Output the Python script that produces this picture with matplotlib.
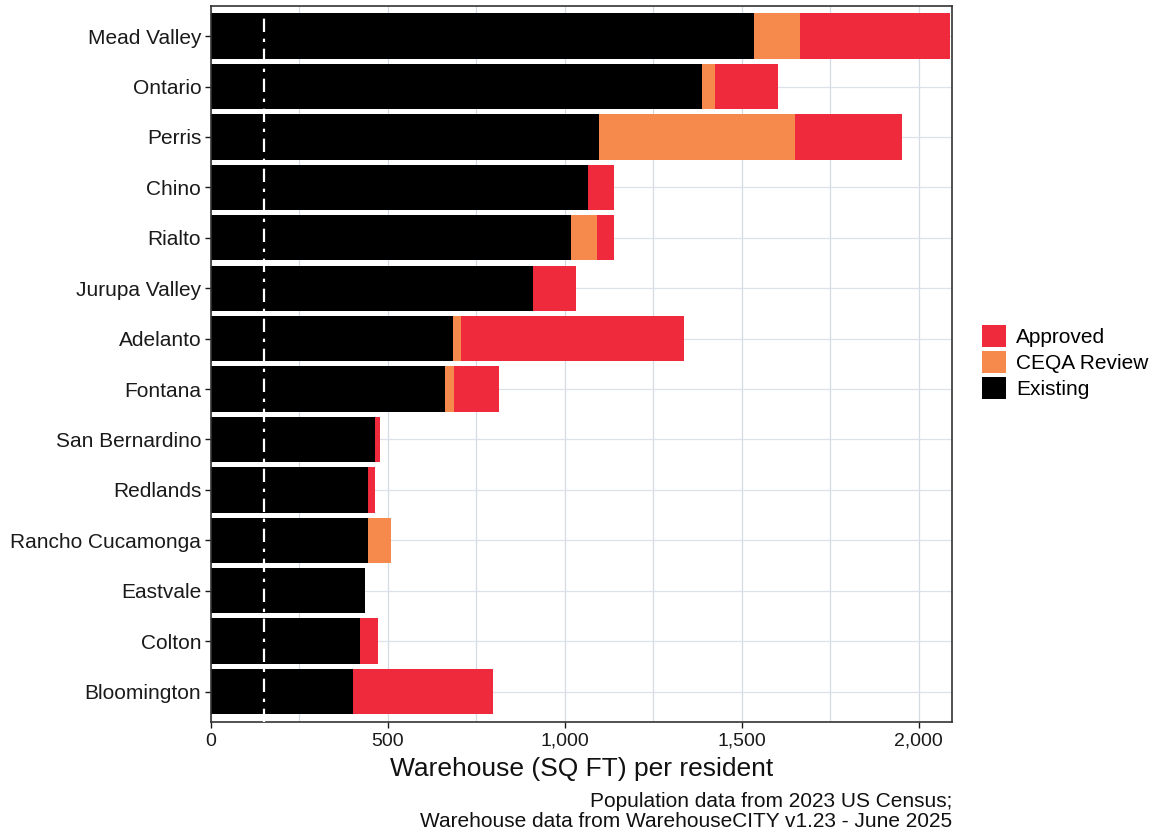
import matplotlib
matplotlib.use("Agg")
import matplotlib.pyplot as plt
from matplotlib.patches import Patch
from matplotlib.ticker import MultipleLocator, FuncFormatter

plt.rcParams['font.family'] = ['Liberation Sans', 'DejaVu Sans']

cities = ["Mead Valley", "Ontario", "Perris", "Chino", "Rialto", "Jurupa Valley",
          "Adelanto", "Fontana", "San Bernardino", "Redlands", "Rancho Cucamonga",
          "Eastvale", "Colton", "Bloomington"]
existing = [1534, 1387, 1096, 1065, 1017, 910, 684, 661, 463, 444, 444, 435, 421, 401]
ceqa     = [132, 37, 554, 0, 73, 0, 22, 25, 0, 0, 64, 0, 0, 0]
approved = [422, 178, 304, 73, 48, 121, 630, 128, 14, 21, 0, 0, 51, 396]
reference_line = 150

c_existing = "#000000"
c_ceqa = "#F58A4C"
c_approved = "#EE2A3C"

fig = plt.figure(figsize=(11.59, 8.34), dpi=100)
ax = fig.add_axes([0.182, 0.1345, 0.6395, 0.8585])

n = len(cities)
ypos = list(range(n))
h = 0.9
left_c = [e for e in existing]
left_a = [e + c for e, c in zip(existing, ceqa)]
ax.barh(ypos, existing, height=h, color=c_existing, zorder=2)
ax.barh(ypos, ceqa, left=left_c, height=h, color=c_ceqa, zorder=2)
ax.barh(ypos, approved, left=left_a, height=h, color=c_approved, zorder=2)

ax.axvline(reference_line, color="white", lw=1.6, linestyle=(0, (6, 3, 1.5, 3)), zorder=3)

ax.set_ylim(n - 1 + 0.6, -0.6)
ax.set_xlim(0, 2095)
ax.set_yticks(ypos)
ax.set_yticklabels(cities, fontsize=15, color="#1a1a1a")
ax.xaxis.set_major_locator(MultipleLocator(500))
ax.xaxis.set_minor_locator(MultipleLocator(250))
ax.xaxis.set_major_formatter(FuncFormatter(lambda v, p: f"{int(v):,}"))
ax.tick_params(axis='x', labelsize=14, colors="#1a1a1a", length=4, width=1.0, pad=4)
ax.tick_params(axis='y', length=4, width=1.0, colors="#1a1a1a", pad=3)
ax.tick_params(axis='x', which='minor', length=0)
ax.grid(True, which='both', axis='x', color="#d5dbe3", lw=0.9, zorder=0)
ax.grid(True, which='major', axis='y', color="#dde2ea", lw=0.9, zorder=0)
for s in ax.spines.values():
    s.set_color("#333333")
    s.set_linewidth(1.2)

ax.set_xlabel("Warehouse (SQ FT) per resident", fontsize=19, color="#111111", labelpad=5)

handles = [Patch(facecolor=c_approved, label="Approved"),
           Patch(facecolor=c_ceqa, label="CEQA Review"),
           Patch(facecolor=c_existing, label="Existing")]
fig.legend(handles=handles, loc="center left", bbox_to_anchor=(0.831, 0.566),
           frameon=False, fontsize=15, handlelength=1.15, handleheight=1.25,
           handletextpad=0.5, labelspacing=0.2)

fig.text(0.8215, 0.004, "Population data from 2023 US Census;\nWarehouse data from WarehouseCITY v1.23 - June 2025",
         ha="right", va="bottom", fontsize=15, color="#111111", linespacing=1.05)

fig.savefig("out.png", dpi=100, facecolor="white")
